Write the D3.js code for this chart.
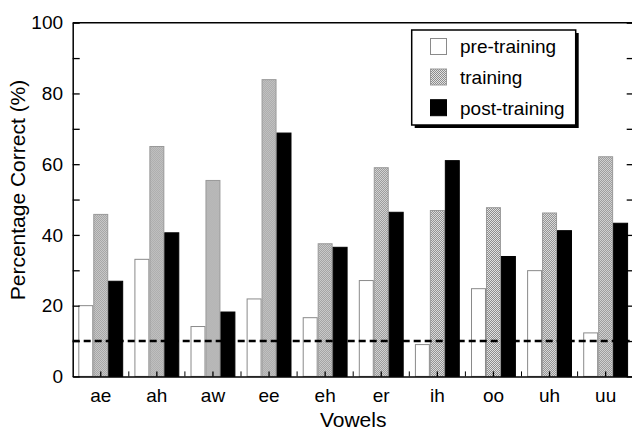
<!DOCTYPE html>
<html>
<head>
<meta charset="utf-8">
<script src="https://cdn.jsdelivr.net/npm/d3@7"></script>
<style>
  body { margin: 0; background: #fff; }
  svg { display: block; font-family: "Liberation Sans", Arial, sans-serif; }
  .axis text { font-size: 19px; fill: #000; }
</style>
</head>
<body>
<div id="chart"></div>
<script>
var vowels = ["ae", "ah", "aw", "ee", "eh", "er", "ih", "oo", "uh", "uu"];
var series = ["pre-training", "training", "post-training"];
var preTraining = [20, 33.1, 14.1, 21.9, 16.6, 27.1, 9, 24.8, 29.9, 12.3];
var training = [45.8, 65, 55.4, 83.9, 37.5, 59, 46.9, 47.7, 46.2, 62.1];
var postTraining = [26.9, 40.6, 18.2, 68.8, 36.5, 46.4, 61, 33.9, 41.2, 43.3];
var yTicks = [0, 10, 20, 30, 40, 50, 60, 70, 80, 90, 100];
var chanceLevel = 10;

var width = 632, height = 431;
var plotLeft = 72.7, plotRight = 633.7, plotTop = 22.7, plotBottom = 376.4;

var data = vowels.map(function (v, i) {
  return { vowel: v, values: [preTraining[i], training[i], postTraining[i]] };
});

var svg = d3.select("#chart").append("svg").attr("width", width).attr("height", height);

var defs = svg.append("defs");
var pat = defs.append("pattern").attr("id", "dots")
  .attr("width", 2).attr("height", 2).attr("patternUnits", "userSpaceOnUse");
pat.append("rect").attr("width", 2).attr("height", 2).attr("fill", "#e2e2e2");
pat.append("rect").attr("width", 1).attr("height", 1).attr("fill", "#8c8c8c");
pat.append("rect").attr("x", 1).attr("y", 1).attr("width", 1).attr("height", 1).attr("fill", "#8c8c8c");

var x0 = d3.scaleBand().domain(vowels).range([plotLeft, plotRight]).paddingInner(0.2).paddingOuter(0.1);
var x1 = d3.scaleBand().domain(series).range([0, x0.bandwidth()]);
var y = d3.scaleLinear().domain([0, 100]).range([plotBottom, plotTop]);

var fills = { "pre-training": "#fff", "training": "url(#dots)", "post-training": "#000" };
var strokes = { "pre-training": "#8a8a8a", "training": "#999", "post-training": "#000" };

// bars
var groups = svg.selectAll("g.group").data(data).enter().append("g")
  .attr("class", "group")
  .attr("transform", function (d) { return "translate(" + x0(d.vowel) + ",0)"; });

groups.selectAll("rect").data(function (d) {
  return series.map(function (s, j) { return { key: s, value: d.values[j] }; });
}).enter().append("rect")
  .attr("x", function (d) { return x1(d.key) + 0.5; })
  .attr("width", x1.bandwidth() - 1)
  .attr("y", function (d) { return y(d.value); })
  .attr("height", function (d) { return plotBottom - y(d.value); })
  .attr("fill", function (d) { return fills[d.key]; })
  .attr("stroke", function (d) { return strokes[d.key]; })
  .attr("stroke-width", 1);

// chance line
svg.append("line")
  .attr("x1", plotLeft).attr("x2", plotRight)
  .attr("y1", y(chanceLevel)).attr("y2", y(chanceLevel))
  .attr("stroke", "#000").attr("stroke-width", 2.6)
  .attr("stroke-dasharray", "7,4");

// axes
var yAxis = d3.axisLeft(y).tickValues(yTicks).tickSizeInner(-7).tickSizeOuter(0).tickPadding(9.7)
  .tickFormat(function (d) { return d % 20 === 0 ? d : ""; });
svg.append("g").attr("class", "axis").attr("transform", "translate(" + plotLeft + ",0)").call(yAxis);

svg.append("g").attr("class", "axis").attr("transform", "translate(" + plotRight + ",0)")
  .call(d3.axisRight(y).tickValues(yTicks).tickSizeInner(-7).tickSizeOuter(0).tickFormat(""));

var xAxis = d3.axisBottom(x0).tickSizeInner(-5).tickSizeOuter(0).tickPadding(12);
var gx = svg.append("g").attr("class", "axis").attr("transform", "translate(0," + plotBottom + ")").call(xAxis);

// boundary ticks between groups
var step = x0.step();
gx.selectAll("line.minor").data(vowels.slice(1)).enter().append("line")
  .attr("class", "minor")
  .attr("x1", function (d) { return x0(d) + x0.bandwidth() / 2 - step / 2; })
  .attr("x2", function (d) { return x0(d) + x0.bandwidth() / 2 - step / 2; })
  .attr("y1", 0).attr("y2", -5).attr("stroke", "#000");

svg.selectAll(".axis path.domain").attr("stroke", "#000").attr("stroke-width", 1.5);
svg.selectAll(".axis .tick line").attr("stroke", "#000").attr("stroke-width", 1.3);

// top border
svg.append("line").attr("x1", plotLeft).attr("x2", plotRight).attr("y1", plotTop).attr("y2", plotTop)
  .attr("stroke", "#000").attr("stroke-width", 1.5);

// axis titles
svg.append("text").attr("x", (plotLeft + plotRight) / 2).attr("y", 426.5)
  .attr("text-anchor", "middle").attr("font-size", 21).text("Vowels");
svg.append("text").attr("transform", "translate(25,190)rotate(-90)")
  .attr("text-anchor", "middle").attr("font-size", 21).text("Percentage Correct (%)");

// legend
var lg = svg.append("g").attr("class", "legend");
lg.append("rect").attr("x", 414.7).attr("y", 33).attr("width", 164).attr("height", 95).attr("fill", "#000");
lg.append("rect").attr("x", 411.7).attr("y", 30).attr("width", 164).attr("height", 95)
  .attr("fill", "#fff").attr("stroke", "#000").attr("stroke-width", 1.5);
var rowY = [46.5, 77, 107.7];
series.forEach(function (s, i) {
  lg.append("rect").attr("x", 430.5).attr("y", rowY[i] - 8).attr("width", 16).attr("height", 16)
    .attr("fill", fills[s]).attr("stroke", strokes[s]).attr("stroke-width", 1);
  lg.append("text").attr("x", 460).attr("y", rowY[i]).attr("dy", "0.36em")
    .attr("font-size", 19).text(s);
});
</script>
</body>
</html>
